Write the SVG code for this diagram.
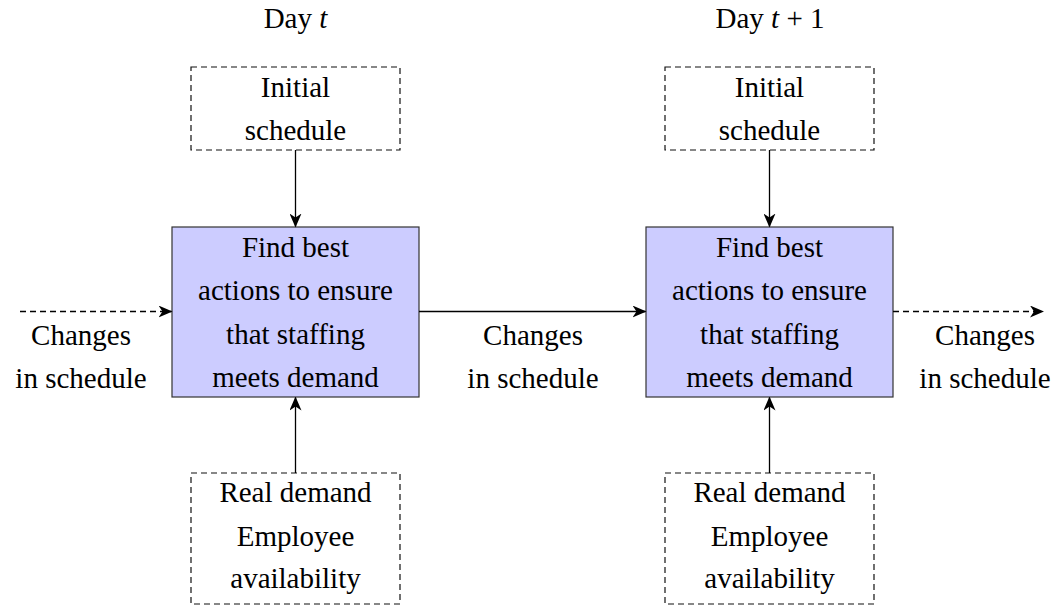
<svg xmlns="http://www.w3.org/2000/svg" width="1059" height="610" viewBox="0 0 1059 610">
<defs>
<style>
text{font-family:'Liberation Serif','Times New Roman',Tinos,'Noto Serif','DejaVu Serif','Nimbus Roman',Times,serif;font-size:29px;fill:#000;text-anchor:middle}
.main{fill:#ccccff;stroke:#333;stroke-width:1.2}
.dash{fill:none;stroke:#111;stroke-width:1.2;stroke-dasharray:6 4}
.conn{fill:none;stroke:#000;stroke-width:1.3}
.dconn{fill:none;stroke:#000;stroke-width:1.3;stroke-dasharray:6 4}
</style>
<marker id="arr" markerUnits="userSpaceOnUse" viewBox="0 0 14 12" refX="13" refY="6" markerWidth="14" markerHeight="12" orient="auto">
<path d="M0,0 L14,6 L0,12 L4,6 Z" fill="#000"/>
</marker>
</defs>
<rect width="1059" height="610" fill="#fff"/>
<g id="label-day-t"><text x="295.5" y="28">Day <tspan font-style="italic">t</tspan></text></g>
<g id="label-day-t1"><text x="770" y="28">Day <tspan font-style="italic">t</tspan> + 1</text></g>
<g id="init1"><rect class="dash" x="191" y="67" width="209" height="83"/><text x="295.5" y="97">Initial</text><text x="295.5" y="140">schedule</text></g>
<g id="init2"><rect class="dash" x="665" y="67" width="209" height="83"/><text x="769.5" y="97">Initial</text><text x="769.5" y="140">schedule</text></g>
<g id="main1"><rect class="main" x="172" y="227" width="247" height="170"/><text x="295.5" y="257">Find best</text><text x="295.5" y="300">actions to ensure</text><text x="295.5" y="344">that staffing</text><text x="295.5" y="387">meets demand</text></g>
<g id="main2"><rect class="main" x="646" y="227" width="247" height="170"/><text x="769.5" y="257">Find best</text><text x="769.5" y="300">actions to ensure</text><text x="769.5" y="344">that staffing</text><text x="769.5" y="387">meets demand</text></g>
<g id="dem1"><rect class="dash" x="191" y="473" width="209" height="131"/><text x="295.5" y="502">Real demand</text><text x="295.5" y="546">Employee</text><text x="295.5" y="588">availability</text></g>
<g id="dem2"><rect class="dash" x="665" y="473" width="209" height="131"/><text x="769.5" y="502">Real demand</text><text x="769.5" y="546">Employee</text><text x="769.5" y="588">availability</text></g>
<g id="lbl-left"><text x="81" y="345">Changes</text><text x="81" y="388">in schedule</text></g>
<g id="lbl-mid"><text x="533" y="345">Changes</text><text x="533" y="388">in schedule</text></g>
<g id="lbl-right"><text x="985" y="345">Changes</text><text x="985" y="388">in schedule</text></g>
<g id="connectors">
<line class="conn" x1="295.5" y1="150" x2="295.5" y2="226.5" marker-end="url(#arr)"/>
<line class="conn" x1="769.5" y1="150" x2="769.5" y2="226.5" marker-end="url(#arr)"/>
<line class="conn" x1="295.5" y1="473" x2="295.5" y2="397.5" marker-end="url(#arr)"/>
<line class="conn" x1="769.5" y1="473" x2="769.5" y2="397.5" marker-end="url(#arr)"/>
<line class="dconn" x1="20" y1="311.5" x2="171.5" y2="311.5" marker-end="url(#arr)"/>
<line class="conn" x1="419" y1="311.5" x2="645.5" y2="311.5" marker-end="url(#arr)"/>
<line class="dconn" x1="893" y1="311.5" x2="1043" y2="311.5" marker-end="url(#arr)"/>
</g>
</svg>
